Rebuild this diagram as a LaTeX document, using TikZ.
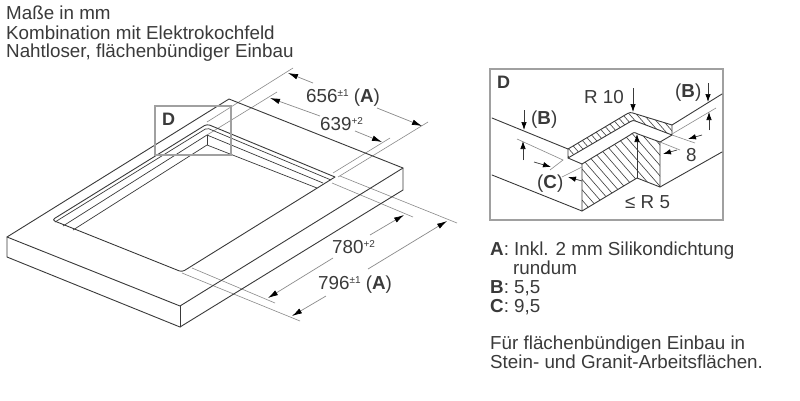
\documentclass[tikz,border=0pt]{standalone}
\usepackage{fontspec}
\setmainfont{Liberation Sans}
\usetikzlibrary{arrows.meta}
\definecolor{ink}{HTML}{3A3A3A}
\definecolor{dimgray}{HTML}{8A8A8A}
\definecolor{framegray}{HTML}{A0A0A0}
\tikzset{
  edge/.style={draw=ink,line width=0.9pt,line join=round,line cap=round},
  thinedge/.style={draw=ink,line width=0.7pt},
  extline/.style={draw=dimgray,line width=0.6pt},
  dimline/.style={draw=dimgray,line width=0.7pt,-{Latex[length=10pt,width=5.5pt,color=black]}},
  darrow/.style={draw=ink,line width=0.7pt,-{Latex[length=8pt,width=5.5pt,color=black]}},
  frame/.style={draw=framegray,line width=2.2pt},
  label/.style={text=ink,font=\fontsize{18.8}{19}\selectfont,inner sep=0pt,anchor=base west},
  dimlabel/.style={label},
  letter/.style={label,font=\fontsize{18}{19}\selectfont\bfseries},
  hatch/.style={draw=ink,line width=0.6pt},
}
\newcommand{\sups}[1]{\raisebox{6pt}{\fontsize{10}{10}\selectfont #1}}
\begin{document}
\begin{tikzpicture}[x=1pt,y=-1pt]
\useasboundingbox (0,0) rectangle (800,400);
\fill[white] (0,0) rectangle (800,400);
% header
\node[label] (h1) at (6,19.5) {Maße in mm};
\node[label] (h2) at (6,39) {Kombination mit Elektrokochfeld};
\node[label] (h3) at (6,57) {Nahtloser, flächenbündiger Einbau};
% extension lines, top
\draw[extline] (207,122) -- (293,68);
\draw[extline] (207,135) -- (277,92);
\draw[extline] (333,173) -- (390,138);
\draw[extline] (338,177) -- (428,122);
% extension lines, bottom
\draw[extline] (192,268) -- (275,303);
\draw[extline] (182,273) -- (300,321);
\draw[extline] (332,183) -- (413,217);
\draw[extline] (340,176) -- (457,223);
% worktop
\draw[edge] (7,237) -- (229,99) -- (403,168) -- (180,306) -- cycle;
\draw[edge] (7,237) -- (7,257) -- (180,327) -- (403,190) -- (403,168);
\draw[edge] (180,306) -- (180,327);
% cut-out
\draw[edge,rounded corners=3pt] (335,177) -- (207,124) -- (52,220) -- (182,272) -- (335,177);
\draw[thinedge,rounded corners=2pt] (331,180) -- (207,128) -- (55,222);
\draw[thinedge] (323,183) -- (207,135) -- (63,226);
\draw[thinedge] (317,188) -- (207,145) -- (73,230);
\draw[thinedge] (207,135) -- (207,145);
% frame D
\draw[frame] (155,106) rectangle (231,155);
\node[letter] (d1) at (162,125.5) {D};
% dimension arrows
\draw[dimline] (313,83) -- (288,73);
\draw[dimline] (377,108) -- (422,126);
\draw[dimline] (320,116) -- (270,98);
\draw[dimline] (355,131) -- (382,142);
\draw[dimline] (333,258) -- (268,298);
\draw[dimline] (370,235) -- (404,215);
\draw[dimline] (326,296) -- (292,316);
\draw[dimline] (368,269) -- (447,221);
\node[dimlabel] (m656) at (306,102) {656\sups{±1} (\textbf{A})};
\node[dimlabel] (m639) at (320,130) {639\sups{+2}};
\node[dimlabel] (m780) at (332,253.5) {780\sups{+2}};
\node[dimlabel] (m796) at (318,289) {796\sups{±1} (\textbf{A})};
% detail frame
\draw[frame] (490,69) rectangle (723,220);
\node[letter] (d2) at (497,88) {D};
% section hatch
\begin{scope}
\clip (568,149) -- (625,115) .. controls (630,112) .. (636,114) -- (672,125) -- (672,135) -- (638,122) .. controls (633,120) .. (628,123) -- (568,158) -- cycle;
\foreach \i in {470,477,...,680}{\draw[hatch] (\i,100) -- ++(70,80);}
\end{scope}
\begin{scope}
\clip (582,164) -- (630,135) .. controls (634,132) .. (638,134) -- (660,142) -- (660,187) -- (637,178) -- (582,211) -- cycle;
\foreach \i in {450,459,...,680}{\draw[hatch] (\i,100) -- ++(100,115);}
\end{scope}
% detail outline
\draw[edge] (492,118) -- (568,149);
\draw[edge] (492,175) -- (582,211);
\draw[edge] (672,125) -- (722,94);
\draw[edge] (660,187) -- (722,152);
\draw[edge] (568,149) -- (625,115) .. controls (630,112) .. (636,114) -- (672,125) -- (672,135) -- (638,122) .. controls (633,120) .. (628,123) -- (568,158) -- cycle;
\draw[edge] (568,158) -- (582,164);
\draw[edge] (582,164) -- (630,135) .. controls (634,132) .. (638,134) -- (660,142);
\draw[edge] (660,142) -- (672,135);
\draw[edge] (582,164) -- (582,211) -- (637,178) -- (660,187) -- (660,142);
% detail extension lines
\draw[extline] (517,139) -- (563,160) -- (550,170);
\draw[extline] (582,167) -- (562,177);
\draw[extline] (672,134) -- (716,108);
\draw[extline] (672,135) -- (695,143);
\draw[extline] (660,142) -- (680,150);
% detail arrows
\draw[darrow] (524,110) -- (524,130);
\draw[darrow] (523,160) -- (523,141);
\draw[darrow] (534,162) -- (551,167);
\draw[darrow] (582,181) -- (568,177);
\draw[darrow] (633,88) -- (633,112);
\draw[darrow] (708,83) -- (708,102);
\draw[darrow] (709,130) -- (709,112);
\draw[darrow] (702,135) -- (688,139);
\draw[darrow] (677,150) -- (663,154);
\draw[darrow] (637,178) -- (637,134);
% detail labels
\node[dimlabel] (r10) at (584,103) {R 10};
\node[dimlabel] (bl) at (531,124) {(\textbf{B})};
\node[dimlabel] (br) at (675,97) {(\textbf{B})};
\node[dimlabel] (cl) at (537,188) {(\textbf{C})};
\node[dimlabel] (eight) at (686,161) {8};
\node[dimlabel] (r5) at (625,208) {≤ R 5};
% notes
\node[label] (n1) at (490,255) {\textbf{A}: Inkl. 2 mm Silikondichtung};
\node[label] (n2) at (513,274) {rundum};
\node[label] (n3) at (490,293) {\textbf{B}: 5,5};
\node[label] (n4) at (490,312) {\textbf{C}: 9,5};
\node[label] (n5) at (490,349) {Für flächenbündigen Einbau in};
\node[label] (n6) at (490,368) {Stein- und Granit-Arbeitsflächen.};
\end{tikzpicture}
\end{document}
